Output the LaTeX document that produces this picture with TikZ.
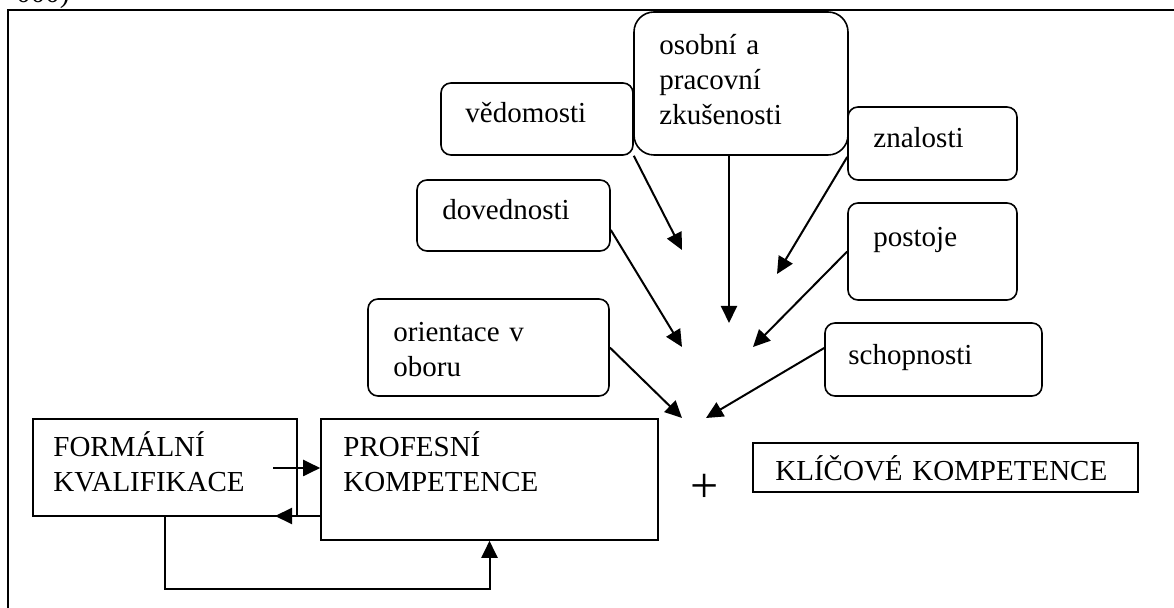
\documentclass[tikz,border=0pt]{standalone}
\usepackage{fontspec}
\setmainfont{Liberation Serif}
\usetikzlibrary{fit,calc,arrows.meta}
\tikzset{
  rbox/.style={draw, line width=0.8pt, rounded corners=5pt, inner sep=0pt},
  bigrbox/.style={rbox, rounded corners=10pt},
  sbox/.style={draw, line width=0.8pt, inner sep=0pt},
  txt/.style={inner sep=0pt, anchor=base west, align=left, text width=300pt,
    font=\fontsize{14.5pt}{17.5pt}\selectfont},
  arr/.style={line width=1pt, -{Triangle[length=8.5pt,width=8pt]}},
  conn/.style={line width=1pt}
}
\begin{document}
\begin{tikzpicture}[x=0.5pt,y=-0.5pt]
\useasboundingbox (0,0) rectangle (1174,608);
\fill[white] (0,0) rectangle (1174,608);
% outer frame (cut off at right and bottom)
\draw[line width=1.2pt] (8,640) -- (8,10) -- (1200,10);
\node[txt] (cut) at (16,3) {000)};
% rounded boxes
\node[rbox, fit={(441,83) (633,155)}] (ved) {};
\node[bigrbox, fit={(634,12) (848,155)}] (osob) {};
\node[rbox, fit={(417,180) (610,251)}] (dov) {};
\node[rbox, fit={(848,107) (1017,180)}] (zna) {};
\node[rbox, fit={(848,203) (1017,300)}] (pos) {};
\node[rbox, fit={(825,323) (1042,396)}] (sch) {};
\node[rbox, fit={(368,299) (609,396)}] (ori) {};
% square boxes
\node[sbox, fit={(33,419) (297,516)}] (form) {};
\node[sbox, fit={(321,419) (658,540)}] (prof) {};
\node[sbox, line width=1pt, fit={(753,443) (1138,492)}] (klic) {};
% texts
\node[txt] (tved) at (465,123) {vědomosti};
\node[txt] (tosob) at (659,55) {osobní a\\pracovní\\zkušenosti};
\node[txt] (tdov) at (442,220) {dovednosti};
\node[txt] (tzna) at (873,148) {znalosti};
\node[txt] (tpos) at (873,247) {postoje};
\node[txt] (tsch) at (848,365) {schopnosti};
\node[txt] (tori) at (393,342) {orientace v\\oboru};
\node[txt] (tform) at (53,457) {FORMÁLNÍ\\KVALIFIKACE};
\node[txt] (tprof) at (343,457) {PROFESNÍ\\KOMPETENCE};
\node[txt] (tklic) at (775,481) {KLÍČOVÉ KOMPETENCE};
\node[inner sep=0pt, font=\fontsize{25pt}{25pt}\selectfont] (plus) at (705,488) {+};
% free arrow ends
\coordinate (eved) at (682,250);
\coordinate (eosob) at (729,323);
\coordinate (ezna) at (777,274);
\coordinate (epos) at (753,347);
\coordinate (edov) at (682,347);
\coordinate (eori) at (682,418);
\coordinate (esch) at (706,418);
\coordinate (sfp) at (273,468);
\coordinate (epf) at (275,516);
% converging arrows
\draw[arr] (ved.south east) -- (eved);
\draw[arr] (osob.south -| eosob) -- (eosob);
\draw[arr] ($(zna.west)+(0,13.5)$) -- (ezna);
\draw[arr] (pos.west) -- (epos);
\draw[arr] ($(dov.east)+(0,14.5)$) -- (edov);
\draw[arr] (ori.east) -- (eori);
\draw[arr] ($(sch.west)+(0,-11.5)$) -- (esch);
% relations between the two lower boxes
\draw[arr] (sfp) -- (prof.west |- sfp);
\draw[arr] (prof.west |- epf) -- (epf);
\draw[arr] (form.south) -- ++(0,72) -| (prof.south);
\end{tikzpicture}
\end{document}
